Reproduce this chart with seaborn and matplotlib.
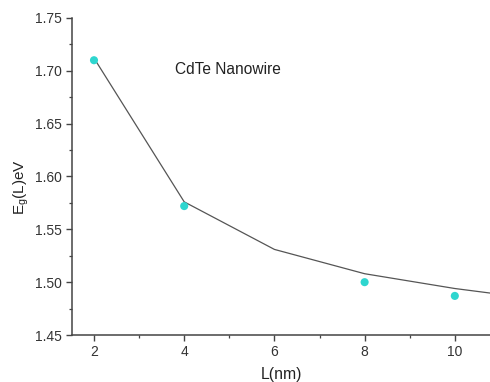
import matplotlib
matplotlib.use("Agg")
import matplotlib.pyplot as plt
import seaborn as sns
import pandas as pd
from matplotlib.ticker import MultipleLocator

# Data
L_points = [2, 4, 8, 10]
Eg_points = [1.710, 1.572, 1.500, 1.487]
L_line = [2, 4, 6, 8, 10, 11]
Eg_line = [1.712, 1.576, 1.531, 1.508, 1.494, 1.4885]
x_ticks = [2, 4, 6, 8, 10]
y_ticks = [1.45, 1.50, 1.55, 1.60, 1.65, 1.70, 1.75]

sns.set_style("ticks")
plt.rcParams['font.family'] = ['Liberation Sans', 'DejaVu Sans']

fig = plt.figure(figsize=(4.9, 3.82), dpi=100)
ax = fig.add_axes([0.147, 0.123, 0.853, 0.830])

df_line = pd.DataFrame({"L": L_line, "Eg": Eg_line})
df_pts = pd.DataFrame({"L": L_points, "Eg": Eg_points})

sns.lineplot(data=df_line, x="L", y="Eg", ax=ax, color="#555555", linewidth=0.9)
sns.scatterplot(data=df_pts, x="L", y="Eg", ax=ax, color="#2ed6cf", s=34,
                edgecolor="none", zorder=3)

ax.set_xlim(1.513, 10.78)
ax.set_ylim(1.45, 1.75)
ax.set_xticks(x_ticks)
ax.set_xticklabels([str(t) for t in x_ticks])
ax.set_yticks(y_ticks)
ax.set_yticklabels([f"{t:.2f}" for t in y_ticks])
ax.xaxis.set_minor_locator(MultipleLocator(1))
ax.yaxis.set_minor_locator(MultipleLocator(0.025))

for s in ["top", "right"]:
    ax.spines[s].set_visible(False)
for s in ["left", "bottom"]:
    ax.spines[s].set_color("#444444")
    ax.spines[s].set_linewidth(1.1)

ax.tick_params(axis="both", which="major", direction="out", length=4, width=1.0,
               color="#444444", labelsize=10, labelcolor="#333333", pad=3)
ax.tick_params(axis="both", which="minor", direction="out", length=2.5, width=0.9,
               color="#444444")

ax.set_xlabel("L(nm)", fontsize=11.3, color="#222222", labelpad=6)
ax.set_ylabel(r"E$_\mathregular{g}$(L)eV", fontsize=11, color="#222222",
              labelpad=3, y=0.467)

ax.text(3.79, 1.701, "CdTe Nanowire", fontsize=11.2, color="#222222",
        ha="left", va="center")

fig.savefig("out.png", dpi=100)
